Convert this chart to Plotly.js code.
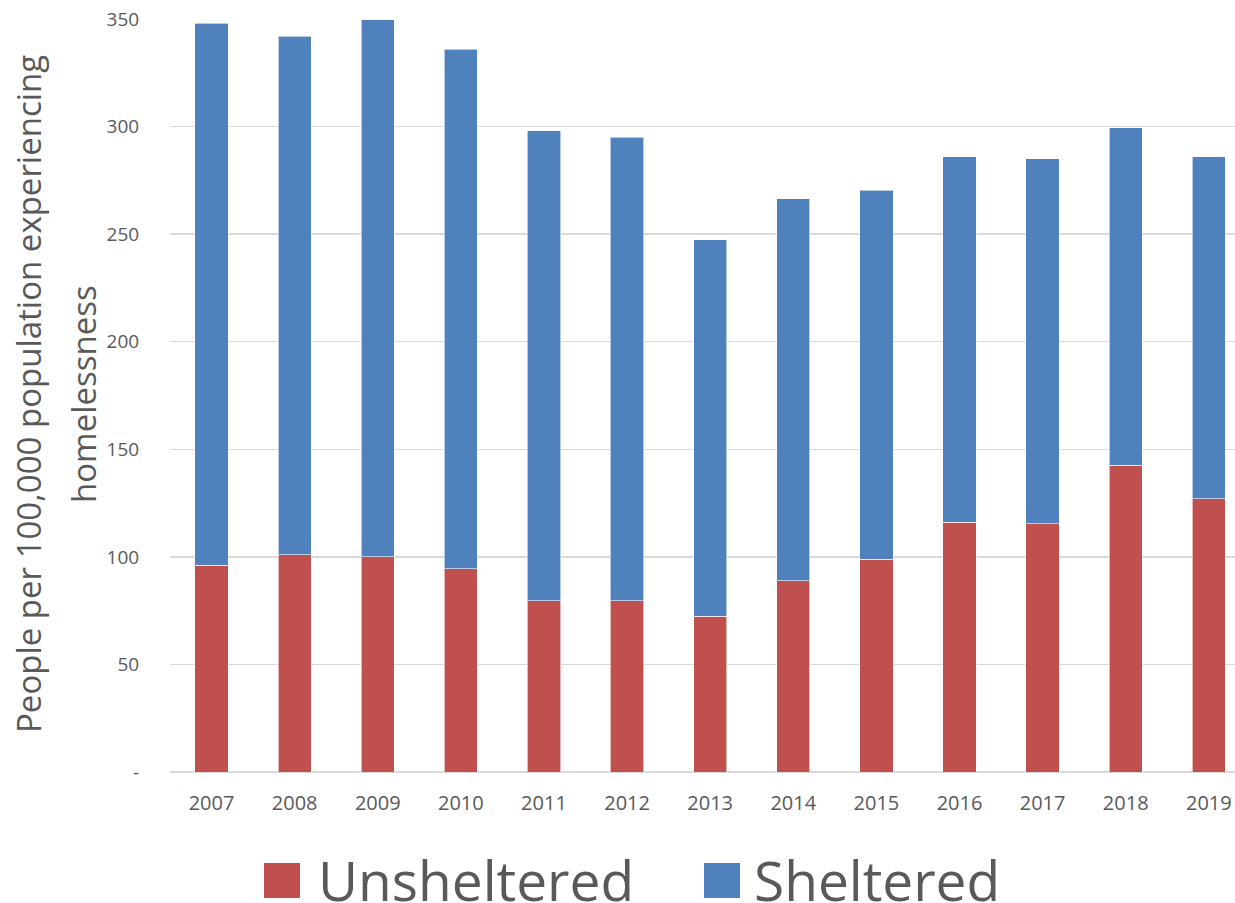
<!DOCTYPE html>
<html>
<head>
<meta charset="utf-8">
<script src="https://cdn.plot.ly/plotly-3.0.1.min.js"></script>
<style>html,body{margin:0;padding:0;background:#fff;}#chart{width:1235px;height:903px;}</style>
</head>
<body>
<div id="chart"></div>
<script>
var years = ['2007','2008','2009','2010','2011','2012','2013','2014','2015','2016','2017','2018','2019'];
var unsheltered = [96, 101, 100, 94.5, 79.5, 79.5, 72.5, 89, 99, 116, 115.5, 142.5, 127];
var sheltered = [252, 241, 249.6, 241.5, 218.5, 215.5, 175, 177.5, 171.5, 170, 169.5, 157, 159];
var seriesNames = ['Unsheltered', 'Sheltered'];
var yTickVals = [0, 50, 100, 150, 200, 250, 300, 350];
var yTickText = ['-', '50', '100', '150', '200', '250', '300', '350'];
var yTitleLines = ['People per 100,000 population experiencing', 'homelessness'];

var RED = '#C0504D', BLUE = '#4F81BD', TXT = '#595959', GRID = '#D9D9D9';
var FONT = 'Open Sans, sans-serif';

var traces = [
  {type:'bar', name: seriesNames[0], x: years, y: unsheltered,
   marker:{color: RED, line:{color:'rgba(255,255,255,0.6)', width:1}}, hoverinfo:'y'},
  {type:'bar', name: seriesNames[1], x: years, y: sheltered,
   marker:{color: BLUE, line:{color:'rgba(255,255,255,0.6)', width:1}}, hoverinfo:'y'}
];

var L = 170, W = 1065, T = 19, H = 753;
function px(x){ return (x - L) / W; }
function py(y){ return (T + H - y) / H; }

var layout = {
  width: 1235, height: 903,
  margin: {l: L, r: 0, t: T, b: 903 - T - H, pad: 0},
  paper_bgcolor: '#fff', plot_bgcolor: '#fff',
  barmode: 'stack', bargap: 0.6,
  showlegend: false,
  font: {family: FONT, color: TXT},
  xaxis: {
    type: 'category', range: [-0.5, 12.315], fixedrange: true,
    showgrid: false, zeroline: false, showline: false,
    ticks: 'outside', ticklen: 13, tickcolor: 'rgba(0,0,0,0)',
    tickfont: {family: FONT, size: 20, color: TXT}
  },
  yaxis: {
    range: [0, 350], fixedrange: true,
    tickmode: 'array', tickvals: yTickVals, ticktext: yTickText,
    showgrid: true, gridcolor: GRID, gridwidth: 1.5,
    zeroline: true, zerolinecolor: GRID, zerolinewidth: 1.5,
    showline: false,
    ticks: 'outside', ticklen: 26, tickcolor: 'rgba(0,0,0,0)',
    tickfont: {family: FONT, size: 19, color: TXT}
  },
  shapes: [
    {type:'rect', xref:'paper', yref:'paper', x0: px(264), x1: px(300), y0: py(898), y1: py(863),
     fillcolor: RED, line:{width:0}},
    {type:'rect', xref:'paper', yref:'paper', x0: px(704), x1: px(740), y0: py(898), y1: py(863),
     fillcolor: BLUE, line:{width:0}}
  ],
  annotations: [
    {xref:'paper', yref:'paper', x: px(28), y: py(394), text: yTitleLines[0], textangle: -90,
     showarrow:false, xanchor:'center', yanchor:'middle', font:{family: FONT, size: 33, color: TXT}},
    {xref:'paper', yref:'paper', x: px(83), y: py(394), text: yTitleLines[1], textangle: -90,
     showarrow:false, xanchor:'center', yanchor:'middle', font:{family: FONT, size: 33, color: TXT}},
    {xref:'paper', yref:'paper', x: px(316), y: py(879), text: seriesNames[0],
     showarrow:false, xanchor:'left', yanchor:'middle', font:{family: FONT, size: 55, color: TXT}},
    {xref:'paper', yref:'paper', x: px(752), y: py(879), text: seriesNames[1],
     showarrow:false, xanchor:'left', yanchor:'middle', font:{family: FONT, size: 55, color: TXT}}
  ]
};

Plotly.newPlot('chart', traces, layout, {displayModeBar: false, staticPlot: true});
</script>
</body>
</html>
